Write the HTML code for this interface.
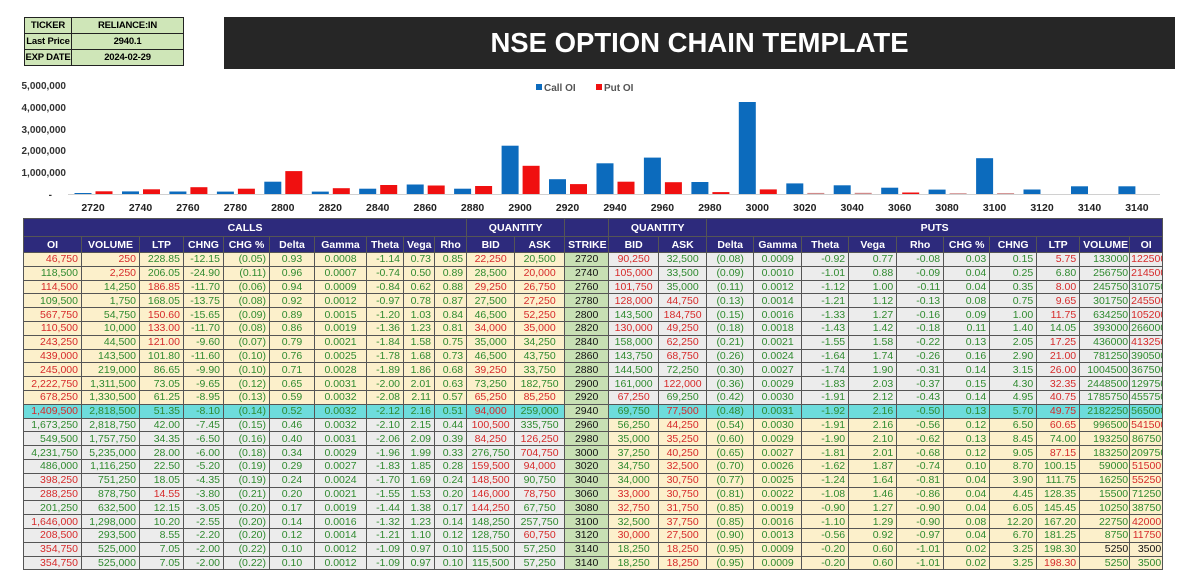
<!DOCTYPE html>
<html><head><meta charset="utf-8"><style>
body{margin:0;width:1200px;height:587px;background:#fff;position:relative;overflow:hidden;font-family:"Liberation Sans",Arial,sans-serif}
.tk{position:absolute;left:24px;top:17px;border-collapse:collapse;font-size:9.5px;font-weight:bold;table-layout:fixed;width:159px}
.tk td{border:1.5px solid #222;background:#cfe6b8;height:15px;padding:0;text-align:center;white-space:nowrap;overflow:hidden;letter-spacing:-0.2px}
.title{position:absolute;left:224px;top:17px;width:951px;height:52px;background:#262626;color:#fff;font-weight:bold;font-size:27.5px;text-align:center;line-height:52px}
svg{position:absolute;left:0;top:0}
table.oc{position:absolute;left:23px;top:218px;width:1139px;border-collapse:collapse;table-layout:fixed;font-size:10.5px}
.oc td,.oc th{border:1px solid #555;padding:0 3px;white-space:nowrap;overflow:hidden}
.oc th{background:#2d2a7c;color:#fff;font-weight:bold;text-align:center;font-size:10.5px}
.oc tr.h1 th{height:17px}
.oc tr.h2 th{height:15px}
.oc tbody tr{height:13.8px}
.oc td{color:#2f8a2f;text-align:right;line-height:12px}
.oc td:nth-child(24),.oc td:nth-child(25){padding:0 1px}
.oc td.r{color:#d62a2a}
.oc td.k{color:#111}
.oc td:nth-child(6),.oc td:nth-child(7),.oc td:nth-child(11),.oc td:nth-child(12),.oc td:nth-child(13),.oc td:nth-child(14),.oc td:nth-child(15),.oc td:nth-child(16),.oc td:nth-child(17){text-align:center}
.oc td:nth-child(13){background:#c8e0b4 !important;color:#111}
tr.i td:nth-child(-n+12){background:#fcf0cb}
tr.i td:nth-child(n+14){background:#ececec}
tr.o td:nth-child(-n+12){background:#ececec}
tr.o td:nth-child(n+14){background:#fcf0cb}
tr.a td{background:#6ddcdc}
</style></head><body>
<table class="tk"><colgroup><col style="width:47px"><col style="width:112px"></colgroup><tr><td>TICKER</td><td>RELIANCE:IN</td></tr><tr><td>Last Price</td><td>2940.1</td></tr><tr><td>EXP DATE</td><td>2024-02-29</td></tr></table>
<div class="title">NSE OPTION CHAIN TEMPLATE</div>
<svg width="1200" height="218" font-family="Liberation Sans, Arial, sans-serif">
<g font-size="10" font-weight="bold" fill="#333" text-anchor="end">
<text x="66" y="89">5,000,000</text><text x="66" y="111">4,000,000</text><text x="66" y="133">3,000,000</text><text x="66" y="154">2,000,000</text><text x="66" y="176">1,000,000</text><text x="52" y="198">-</text></g>
<line x1="68" y1="194.5" x2="1160" y2="194.5" stroke="#d0d0d0"/>
<rect x="536" y="84" width="6" height="6" fill="#0c6bbd"/><text x="544" y="91" font-size="10" fill="#555" font-weight="bold">Call OI</text>
<rect x="596" y="84" width="6" height="6" fill="#f01010"/><text x="604" y="91" font-size="10" fill="#555" font-weight="bold">Put OI</text>
<g fill="#0c6bbd">
<rect x="74.5" y="193" width="17" height="1"/><rect x="122" y="191.4" width="17" height="2.6"/><rect x="169.4" y="191.5" width="17" height="2.5"/><rect x="216.9" y="191.6" width="17" height="2.4"/><rect x="264.3" y="181.7" width="17" height="12.3"/><rect x="311.8" y="191.6" width="17" height="2.4"/><rect x="359.2" y="188.7" width="17" height="5.3"/><rect x="406.7" y="184.5" width="17" height="9.5"/><rect x="454.1" y="188.7" width="17" height="5.3"/><rect x="501.6" y="145.7" width="17" height="48.3"/><rect x="549" y="179.2" width="17" height="14.8"/><rect x="596.5" y="163.3" width="17" height="30.7"/><rect x="643.9" y="157.6" width="17" height="36.4"/><rect x="691.4" y="182" width="17" height="12"/><rect x="738.8" y="102" width="17" height="92"/><rect x="786.3" y="183.4" width="17" height="10.6"/><rect x="833.7" y="185.3" width="17" height="8.7"/><rect x="881.2" y="187.7" width="17" height="6.3"/><rect x="928.6" y="189.6" width="17" height="4.4"/><rect x="976.1" y="158.2" width="17" height="35.8"/><rect x="1023.5" y="189.5" width="17" height="4.5"/><rect x="1071" y="186.3" width="17" height="7.7"/><rect x="1118.4" y="186.3" width="17" height="7.7"/></g>
<g fill="#f01010">
<rect x="95.5" y="191.3" width="17" height="2.7"/><rect x="143" y="189.3" width="17" height="4.7"/><rect x="190.4" y="187.2" width="17" height="6.8"/><rect x="237.9" y="188.7" width="17" height="5.3"/><rect x="285.3" y="171.1" width="17" height="22.9"/><rect x="332.8" y="188.2" width="17" height="5.8"/><rect x="380.2" y="185" width="17" height="9"/><rect x="427.7" y="185.5" width="17" height="8.5"/><rect x="475.1" y="186" width="17" height="8"/><rect x="522.6" y="165.8" width="17" height="28.2"/><rect x="570" y="184.1" width="17" height="9.9"/><rect x="617.5" y="181.7" width="17" height="12.3"/><rect x="664.9" y="182.2" width="17" height="11.8"/><rect x="712.4" y="192.1" width="17" height="1.9"/><rect x="759.8" y="189.4" width="17" height="4.6"/><rect x="807.3" y="192.9" width="17" height="1.1" fill="#d08a8a"/><rect x="854.7" y="192.8" width="17" height="1.2" fill="#d08a8a"/><rect x="902.2" y="192.5" width="17" height="1.5"/><rect x="949.6" y="193.2" width="17" height="0.8" fill="#d08a8a"/><rect x="997.1" y="193.1" width="17" height="0.9" fill="#d08a8a"/></g>
<g font-size="10.5" font-weight="bold" fill="#222" text-anchor="middle">
<text x="93" y="211">2720</text><text x="140.5" y="211">2740</text><text x="187.9" y="211">2760</text><text x="235.4" y="211">2780</text><text x="282.8" y="211">2800</text><text x="330.3" y="211">2820</text><text x="377.7" y="211">2840</text><text x="425.2" y="211">2860</text><text x="472.6" y="211">2880</text><text x="520.1" y="211">2900</text><text x="567.5" y="211">2920</text><text x="615" y="211">2940</text><text x="662.4" y="211">2960</text><text x="709.9" y="211">2980</text><text x="757.3" y="211">3000</text><text x="804.8" y="211">3020</text><text x="852.2" y="211">3040</text><text x="899.7" y="211">3060</text><text x="947.1" y="211">3080</text><text x="994.6" y="211">3100</text><text x="1042" y="211">3120</text><text x="1089.5" y="211">3140</text><text x="1136.9" y="211">3140</text></g>
</svg>
<table class="oc">
<colgroup><col style="width:58px"><col style="width:58px"><col style="width:44px"><col style="width:40px"><col style="width:46px"><col style="width:45px"><col style="width:52px"><col style="width:37px"><col style="width:31px"><col style="width:32px"><col style="width:48px"><col style="width:50px"><col style="width:44px"><col style="width:50px"><col style="width:48px"><col style="width:47px"><col style="width:48px"><col style="width:47px"><col style="width:48px"><col style="width:47px"><col style="width:46px"><col style="width:47px"><col style="width:43px"><col style="width:50px"><col style="width:33px"></colgroup>
<thead><tr class="h1"><th colspan="10">CALLS</th><th colspan="2">QUANTITY</th><th></th><th colspan="2">QUANTITY</th><th colspan="10">PUTS</th></tr>
<tr class="h2"><th>OI</th><th>VOLUME</th><th>LTP</th><th>CHNG</th><th>CHG %</th><th>Delta</th><th>Gamma</th><th>Theta</th><th>Vega</th><th>Rho</th><th>BID</th><th>ASK</th><th>STRIKE</th><th>BID</th><th>ASK</th><th>Delta</th><th>Gamma</th><th>Theta</th><th>Vega</th><th>Rho</th><th>CHG %</th><th>CHNG</th><th>LTP</th><th>VOLUME</th><th>OI</th></tr></thead>
<tbody>
<tr class="i"><td class="r">46,750</td><td class="r">250</td><td>228.85</td><td>-12.15</td><td>(0.05)</td><td>0.93</td><td>0.0008</td><td>-1.14</td><td>0.73</td><td>0.85</td><td class="r">22,250</td><td>20,500</td><td>2720</td><td class="r">90,250</td><td>32,500</td><td>(0.08)</td><td>0.0009</td><td>-0.92</td><td>0.77</td><td>-0.08</td><td>0.03</td><td>0.15</td><td class="r">5.75</td><td>133000</td><td class="r">122500</td></tr>
<tr class="i"><td>118,500</td><td class="r">2,250</td><td>206.05</td><td>-24.90</td><td>(0.11)</td><td>0.96</td><td>0.0007</td><td>-0.74</td><td>0.50</td><td>0.89</td><td>28,500</td><td class="r">20,000</td><td>2740</td><td class="r">105,000</td><td>33,500</td><td>(0.09)</td><td>0.0010</td><td>-1.01</td><td>0.88</td><td>-0.09</td><td>0.04</td><td>0.25</td><td>6.80</td><td>256750</td><td class="r">214500</td></tr>
<tr class="i"><td class="r">114,500</td><td>14,250</td><td class="r">186.85</td><td>-11.70</td><td>(0.06)</td><td>0.94</td><td>0.0009</td><td>-0.84</td><td>0.62</td><td>0.88</td><td class="r">29,250</td><td class="r">26,750</td><td>2760</td><td class="r">101,750</td><td>35,000</td><td>(0.11)</td><td>0.0012</td><td>-1.12</td><td>1.00</td><td>-0.11</td><td>0.04</td><td>0.35</td><td class="r">8.00</td><td>245750</td><td>310750</td></tr>
<tr class="i"><td>109,500</td><td>1,750</td><td>168.05</td><td>-13.75</td><td>(0.08)</td><td>0.92</td><td>0.0012</td><td>-0.97</td><td>0.78</td><td>0.87</td><td>27,500</td><td class="r">27,250</td><td>2780</td><td class="r">128,000</td><td class="r">44,750</td><td>(0.13)</td><td>0.0014</td><td>-1.21</td><td>1.12</td><td>-0.13</td><td>0.08</td><td>0.75</td><td class="r">9.65</td><td>301750</td><td class="r">245500</td></tr>
<tr class="i"><td class="r">567,750</td><td>54,750</td><td class="r">150.60</td><td>-15.65</td><td>(0.09)</td><td>0.89</td><td>0.0015</td><td>-1.20</td><td>1.03</td><td>0.84</td><td>46,500</td><td class="r">52,250</td><td>2800</td><td>143,500</td><td class="r">184,750</td><td>(0.15)</td><td>0.0016</td><td>-1.33</td><td>1.27</td><td>-0.16</td><td>0.09</td><td>1.00</td><td class="r">11.75</td><td>634250</td><td class="r">1052000</td></tr>
<tr class="i"><td class="r">110,500</td><td>10,000</td><td class="r">133.00</td><td>-11.70</td><td>(0.08)</td><td>0.86</td><td>0.0019</td><td>-1.36</td><td>1.23</td><td>0.81</td><td class="r">34,000</td><td class="r">35,000</td><td>2820</td><td class="r">130,000</td><td class="r">49,250</td><td>(0.18)</td><td>0.0018</td><td>-1.43</td><td>1.42</td><td>-0.18</td><td>0.11</td><td>1.40</td><td>14.05</td><td>393000</td><td>266000</td></tr>
<tr class="i"><td class="r">243,250</td><td>44,500</td><td class="r">121.00</td><td>-9.60</td><td>(0.07)</td><td>0.79</td><td>0.0021</td><td>-1.84</td><td>1.58</td><td>0.75</td><td>35,000</td><td>34,250</td><td>2840</td><td>158,000</td><td class="r">62,250</td><td>(0.21)</td><td>0.0021</td><td>-1.55</td><td>1.58</td><td>-0.22</td><td>0.13</td><td>2.05</td><td class="r">17.25</td><td>436000</td><td class="r">413250</td></tr>
<tr class="i"><td class="r">439,000</td><td>143,500</td><td>101.80</td><td>-11.60</td><td>(0.10)</td><td>0.76</td><td>0.0025</td><td>-1.78</td><td>1.68</td><td>0.73</td><td>46,500</td><td>43,750</td><td>2860</td><td>143,750</td><td class="r">68,750</td><td>(0.26)</td><td>0.0024</td><td>-1.64</td><td>1.74</td><td>-0.26</td><td>0.16</td><td>2.90</td><td class="r">21.00</td><td>781250</td><td>390500</td></tr>
<tr class="i"><td class="r">245,000</td><td>219,000</td><td>86.65</td><td>-9.90</td><td>(0.10)</td><td>0.71</td><td>0.0028</td><td>-1.89</td><td>1.86</td><td>0.68</td><td class="r">39,250</td><td>33,750</td><td>2880</td><td>144,500</td><td>72,250</td><td>(0.30)</td><td>0.0027</td><td>-1.74</td><td>1.90</td><td>-0.31</td><td>0.14</td><td>3.15</td><td class="r">26.00</td><td>1004500</td><td>367500</td></tr>
<tr class="i"><td class="r">2,222,750</td><td>1,311,500</td><td>73.05</td><td>-9.65</td><td>(0.12)</td><td>0.65</td><td>0.0031</td><td>-2.00</td><td>2.01</td><td>0.63</td><td>73,250</td><td>182,750</td><td>2900</td><td>161,000</td><td class="r">122,000</td><td>(0.36)</td><td>0.0029</td><td>-1.83</td><td>2.03</td><td>-0.37</td><td>0.15</td><td>4.30</td><td class="r">32.35</td><td>2448500</td><td>1297500</td></tr>
<tr class="i"><td class="r">678,250</td><td>1,330,500</td><td>61.25</td><td>-8.95</td><td>(0.13)</td><td>0.59</td><td>0.0032</td><td>-2.08</td><td>2.11</td><td>0.57</td><td class="r">65,250</td><td class="r">85,250</td><td>2920</td><td class="r">67,250</td><td>69,250</td><td>(0.42)</td><td>0.0030</td><td>-1.91</td><td>2.12</td><td>-0.43</td><td>0.14</td><td>4.95</td><td class="r">40.75</td><td>1785750</td><td>455750</td></tr>
<tr class="a"><td class="r">1,409,500</td><td>2,818,500</td><td>51.35</td><td>-8.10</td><td>(0.14)</td><td>0.52</td><td>0.0032</td><td>-2.12</td><td>2.16</td><td>0.51</td><td class="r">94,000</td><td>259,000</td><td>2940</td><td>69,750</td><td class="r">77,500</td><td>(0.48)</td><td>0.0031</td><td>-1.92</td><td>2.16</td><td>-0.50</td><td>0.13</td><td>5.70</td><td class="r">49.75</td><td>2182250</td><td>565000</td></tr>
<tr class="o"><td>1,673,250</td><td>2,818,750</td><td>42.00</td><td>-7.45</td><td>(0.15)</td><td>0.46</td><td>0.0032</td><td>-2.10</td><td>2.15</td><td>0.44</td><td class="r">100,500</td><td>335,750</td><td>2960</td><td>56,250</td><td class="r">44,250</td><td>(0.54)</td><td>0.0030</td><td>-1.91</td><td>2.16</td><td>-0.56</td><td>0.12</td><td>6.50</td><td class="r">60.65</td><td>996500</td><td class="r">541500</td></tr>
<tr class="o"><td>549,500</td><td>1,757,750</td><td>34.35</td><td>-6.50</td><td>(0.16)</td><td>0.40</td><td>0.0031</td><td>-2.06</td><td>2.09</td><td>0.39</td><td class="r">84,250</td><td class="r">126,250</td><td>2980</td><td>35,000</td><td class="r">35,250</td><td>(0.60)</td><td>0.0029</td><td>-1.90</td><td>2.10</td><td>-0.62</td><td>0.13</td><td>8.45</td><td>74.00</td><td>193250</td><td>86750</td></tr>
<tr class="o"><td>4,231,750</td><td>5,235,000</td><td>28.00</td><td>-6.00</td><td>(0.18)</td><td>0.34</td><td>0.0029</td><td>-1.96</td><td>1.99</td><td>0.33</td><td>276,750</td><td class="r">704,750</td><td>3000</td><td>37,250</td><td class="r">40,250</td><td>(0.65)</td><td>0.0027</td><td>-1.81</td><td>2.01</td><td>-0.68</td><td>0.12</td><td>9.05</td><td class="r">87.15</td><td>183250</td><td>209750</td></tr>
<tr class="o"><td>486,000</td><td>1,116,250</td><td>22.50</td><td>-5.20</td><td>(0.19)</td><td>0.29</td><td>0.0027</td><td>-1.83</td><td>1.85</td><td>0.28</td><td class="r">159,500</td><td class="r">94,000</td><td>3020</td><td>34,750</td><td class="r">32,500</td><td>(0.70)</td><td>0.0026</td><td>-1.62</td><td>1.87</td><td>-0.74</td><td>0.10</td><td>8.70</td><td>100.15</td><td>59000</td><td class="r">51500</td></tr>
<tr class="o"><td class="r">398,250</td><td>751,250</td><td>18.05</td><td>-4.35</td><td>(0.19)</td><td>0.24</td><td>0.0024</td><td>-1.70</td><td>1.69</td><td>0.24</td><td class="r">148,500</td><td>90,750</td><td>3040</td><td>34,000</td><td class="r">30,750</td><td>(0.77)</td><td>0.0025</td><td>-1.24</td><td>1.64</td><td>-0.81</td><td>0.04</td><td>3.90</td><td>111.75</td><td>16250</td><td class="r">55250</td></tr>
<tr class="o"><td class="r">288,250</td><td>878,750</td><td class="r">14.55</td><td>-3.80</td><td>(0.21)</td><td>0.20</td><td>0.0021</td><td>-1.55</td><td>1.53</td><td>0.20</td><td class="r">146,000</td><td class="r">78,750</td><td>3060</td><td class="r">33,000</td><td class="r">30,750</td><td>(0.81)</td><td>0.0022</td><td>-1.08</td><td>1.46</td><td>-0.86</td><td>0.04</td><td>4.45</td><td>128.35</td><td>15500</td><td>71250</td></tr>
<tr class="o"><td>201,250</td><td>632,500</td><td>12.15</td><td>-3.05</td><td>(0.20)</td><td>0.17</td><td>0.0019</td><td>-1.44</td><td>1.38</td><td>0.17</td><td class="r">144,250</td><td>67,750</td><td>3080</td><td class="r">32,750</td><td class="r">31,750</td><td>(0.85)</td><td>0.0019</td><td>-0.90</td><td>1.27</td><td>-0.90</td><td>0.04</td><td>6.05</td><td>145.45</td><td>10250</td><td>38750</td></tr>
<tr class="o"><td class="r">1,646,000</td><td>1,298,000</td><td>10.20</td><td>-2.55</td><td>(0.20)</td><td>0.14</td><td>0.0016</td><td>-1.32</td><td>1.23</td><td>0.14</td><td>148,250</td><td>257,750</td><td>3100</td><td>32,500</td><td class="r">37,750</td><td>(0.85)</td><td>0.0016</td><td>-1.10</td><td>1.29</td><td>-0.90</td><td>0.08</td><td>12.20</td><td>167.20</td><td>22750</td><td class="r">42000</td></tr>
<tr class="o"><td class="r">208,500</td><td>293,500</td><td>8.55</td><td>-2.20</td><td>(0.20)</td><td>0.12</td><td>0.0014</td><td>-1.21</td><td>1.10</td><td>0.12</td><td>128,750</td><td class="r">60,750</td><td>3120</td><td class="r">30,000</td><td class="r">27,500</td><td>(0.90)</td><td>0.0013</td><td>-0.56</td><td>0.92</td><td>-0.97</td><td>0.04</td><td>6.70</td><td>181.25</td><td>8750</td><td class="r">11750</td></tr>
<tr class="o"><td class="r">354,750</td><td>525,000</td><td>7.05</td><td>-2.00</td><td>(0.22)</td><td>0.10</td><td>0.0012</td><td>-1.09</td><td>0.97</td><td>0.10</td><td>115,500</td><td>57,250</td><td>3140</td><td>18,250</td><td class="r">18,250</td><td>(0.95)</td><td>0.0009</td><td>-0.20</td><td>0.60</td><td>-1.01</td><td>0.02</td><td>3.25</td><td>198.30</td><td class="k">5250</td><td class="k">3500</td></tr>
<tr class="o"><td class="r">354,750</td><td>525,000</td><td>7.05</td><td>-2.00</td><td>(0.22)</td><td>0.10</td><td>0.0012</td><td>-1.09</td><td>0.97</td><td>0.10</td><td>115,500</td><td>57,250</td><td>3140</td><td>18,250</td><td class="r">18,250</td><td>(0.95)</td><td>0.0009</td><td>-0.20</td><td>0.60</td><td>-1.01</td><td>0.02</td><td>3.25</td><td class="r">198.30</td><td>5250</td><td>3500</td></tr>
</tbody></table>
</body></html>
